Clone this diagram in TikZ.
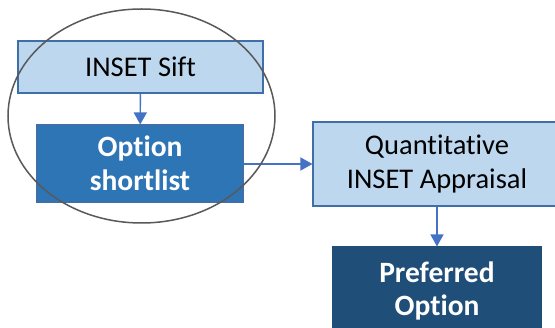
\documentclass[tikz,border=0pt]{standalone}
\usepackage{fontspec}
\setmainfont{Carlito}[Ligatures={NoCommon}]
\usetikzlibrary{arrows.meta,shapes.geometric}
\definecolor{lightbox}{HTML}{BDD7EE}
\definecolor{midbox}{HTML}{2E75B6}
\definecolor{darkbox}{HTML}{1F4E79}
\definecolor{boxline}{HTML}{3F6FA8}
\definecolor{arrowc}{HTML}{4472C4}
\definecolor{ringc}{HTML}{595959}
\begin{document}
\begin{tikzpicture}[x=1pt,y=-1pt,
  box/.style={draw=boxline,line width=1.1pt,rectangle,align=center,inner sep=0pt,
    font=\fontsize{28.5}{33.5}\selectfont},
  lightb/.style={box,fill=lightbox,text=black},
  midb/.style={box,fill=midbox,text=white,font=\fontsize{29.5}{33.5}\selectfont\bfseries},
  darkb/.style={box,fill=darkbox,draw=darkbox,text=white,font=\fontsize{29.5}{33.5}\selectfont\bfseries},
  conn/.style={draw=arrowc,line width=1.4pt,-{Triangle[length=12pt,width=13pt]}},
  ring/.style={draw=ringc,line width=1.5pt}]
\useasboundingbox (0,0) rectangle (555,328);
\fill[white] (0,0) rectangle (555,328);
\node[lightb,minimum width=245pt,minimum height=52pt] (sift) at (140.5,67) {INSET Sift};
\node[midb,minimum width=206pt,minimum height=77pt] (short) at (140,163.5) {Option\\shortlist};
\node[lightb,minimum width=248pt,minimum height=84pt] (quant) at (437,164) {Quantitative\\INSET Appraisal};
\node[darkb,minimum width=208pt,minimum height=88pt] (pref) at (437,291) {Preferred\\Option};
\draw[conn] (sift) -- (short);
\draw[conn] (short.east |- quant.west) -- (quant.west);
\draw[conn] (quant) -- (pref);
\node[ring,ellipse,minimum width=267pt,minimum height=214pt,inner sep=0pt] (circ) at (141.5,116) {};
\end{tikzpicture}
\end{document}
